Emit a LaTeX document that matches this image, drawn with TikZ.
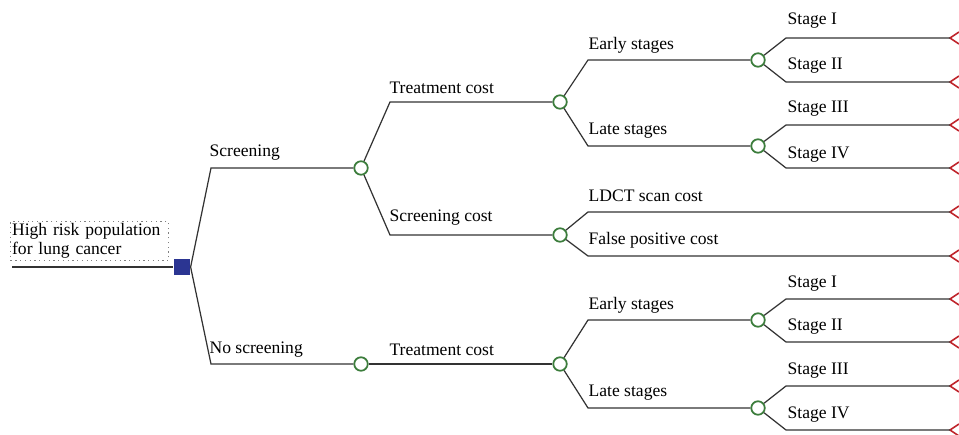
\documentclass[tikz,border=0pt]{standalone}
\usepackage{fontspec}
\setmainfont{Liberation Serif}
\definecolor{branchgray}{HTML}{333333}
\definecolor{chancegreen}{HTML}{3C7D3C}
\definecolor{decblue}{HTML}{2B3592}
\definecolor{termred}{HTML}{C0262D}

\begin{document}
\begin{tikzpicture}[x=0.02cm,y=-0.02cm,line width=0.7pt,draw=branchgray,
  chance/.style={circle,draw=chancegreen,line width=1pt,fill=white,minimum size=0.27cm,inner sep=0pt},
  decision/.style={rectangle,fill=decblue,minimum size=0.32cm,inner sep=0pt},
  lbl/.style={anchor=west,inner sep=0pt,font=\fontsize{10}{12}\selectfont},
  term/.style={draw=termred,line width=0.9pt}]
  \useasboundingbox (0,0) rectangle (959,435);

  % population box and decision node
  \node[draw=gray,dotted,anchor=north west,text width=3.1cm,minimum height=0.78cm,
        inner xsep=0.03cm,inner ysep=1pt,align=left,font=\fontsize{10}{11}\selectfont] (pop) at (10,221)
        {High risk population\\for lung cancer};
  \coordinate (start) at (12,267);
  \node[decision] (dec) at (182,267) {};
  \draw (start) -- (dec);

  % chance nodes
  \node[chance] (scr) at (361,168) {};
  \node[chance] (noscr) at (361,364) {};
  \node[chance] (treat) at (560,102) {};
  \node[chance] (scost) at (560,235) {};
  \node[chance] (treatb) at (560,364) {};
  \node[chance] (early) at (758,60) {};
  \node[chance] (late) at (758,146) {};
  \node[chance] (earlyb) at (758,320) {};
  \node[chance] (lateb) at (758,408) {};

  % corners
  \coordinate (kscr) at (211,168);
  \coordinate (knoscr) at (211,364);
  \coordinate (ktreat) at (390,102);
  \coordinate (kscost) at (390,235);
  \coordinate (kearly) at (588,60);
  \coordinate (klate) at (588,146);
  \coordinate (kldct) at (588,212);
  \coordinate (kfalse) at (588,256);
  \coordinate (kearlyb) at (588,320);
  \coordinate (klateb) at (588,408);

  % terminal nodes
  \foreach \n/\y in {s1/38,s2/82,s3/125,s4/168,ldct/212,false/256,b1/299,b2/342,b3/386,b4/430}{
    \coordinate (t\n) at (950,\y);
    \draw[term] (t\n) ++(9,-6) -- (t\n) -- ++(9,6);
  }

  % branches
  \draw (dec.east) -- (kscr) -- (scr);
  \draw (dec.east) -- (knoscr) -- (noscr);
  \draw (scr) -- (ktreat) -- (treat);
  \draw (scr) -- (kscost) -- (scost);
  \draw (noscr) -- (treatb);
  \draw (treat) -- (kearly) -- (early);
  \draw (treat) -- (klate) -- (late);
  \draw (scost) -- (kldct) -- (tldct);
  \draw (scost) -- (kfalse) -- (tfalse);
  \draw (treatb) -- (kearlyb) -- (earlyb);
  \draw (treatb) -- (klateb) -- (lateb);
  \draw (early) -- (786,38) -- (ts1);
  \draw (early) -- (786,82) -- (ts2);
  \draw (late) -- (786,125) -- (ts3);
  \draw (late) -- (786,168) -- (ts4);
  \draw (earlyb) -- (786,299) -- (tb1);
  \draw (earlyb) -- (786,342) -- (tb2);
  \draw (lateb) -- (786,386) -- (tb3);
  \draw (lateb) -- (786,430) -- (tb4);

  % labels
  \node[lbl] (lscr) at (209,153) {Screening};
  \node[lbl] (lnoscr) at (209,350) {No screening};
  \node[lbl] (ltreat) at (389,88) {Treatment cost};
  \node[lbl] (lscost) at (389,218) {Screening cost};
  \node[lbl] (ltreatb) at (389,350) {Treatment cost};
  \node[lbl] (learly) at (588,45) {Early stages};
  \node[lbl] (llate) at (588,131) {Late stages};
  \node[lbl] (lldct) at (588,196) {LDCT scan cost};
  \node[lbl] (lfalse) at (588,240) {False positive cost};
  \node[lbl] (learlyb) at (588,305) {Early stages};
  \node[lbl] (llateb) at (588,393) {Late stages};
  \node[lbl] (ls1) at (787,21) {Stage I};
  \node[lbl] (ls2) at (787,66) {Stage II};
  \node[lbl] (ls3) at (787,109) {Stage III};
  \node[lbl] (ls4) at (787,155) {Stage IV};
  \node[lbl] (lb1) at (787,284) {Stage I};
  \node[lbl] (lb2) at (787,327) {Stage II};
  \node[lbl] (lb3) at (787,371) {Stage III};
  \node[lbl] (lb4) at (787,415) {Stage IV};
\end{tikzpicture}
\end{document}
